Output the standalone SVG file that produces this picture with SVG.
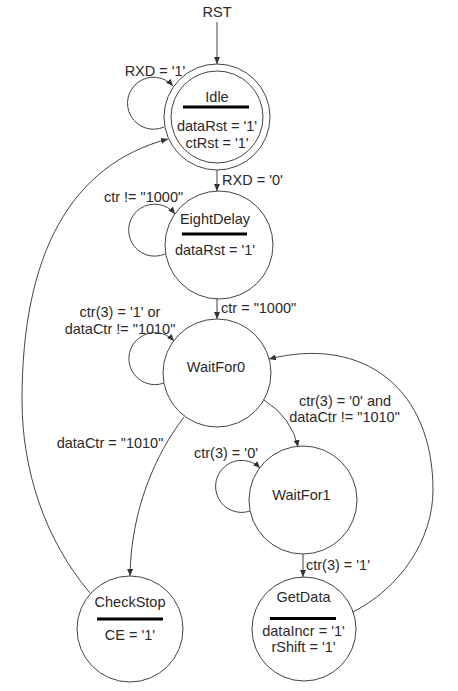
<svg xmlns="http://www.w3.org/2000/svg" width="458" height="691" viewBox="0 0 458 691">
<style>
  text { font-family: "Liberation Sans", Arial, sans-serif; font-size: 14.5px; fill: #2a2a2a; }
  .c { text-anchor: middle; }
  .node { fill: none; stroke: #444; stroke-width: 1; }
  .bar { stroke: #000; stroke-width: 3; }
  .edge { fill: none; stroke: #444; stroke-width: 1; marker-end: url(#arr); }
</style>
<defs>
  <marker id="arr" markerUnits="userSpaceOnUse" markerWidth="7" markerHeight="6" refX="7" refY="3" orient="auto">
    <path d="M0,0 L7,3 L0,6 z" fill="#333"/>
  </marker>
</defs>
<rect width="458" height="691" fill="#fff"/>

<g id="connectors">
  <text class="c" x="217" y="17">RST</text>
  <path class="edge" d="M217,22 L217,64"/>
  <path class="edge" d="M164,127 A26,26 0 1 1 173,86"/>
  <text class="c" x="155" y="76">RXD = '1'</text>
  <path class="edge" d="M217,170 L217,191"/>
  <text x="222" y="185">RXD = '0'</text>
  <path class="edge" d="M165,254 A26,26 0 1 1 175,214"/>
  <text class="c" x="143.5" y="202">ctr != "1000"</text>
  <path class="edge" d="M217,298 L217,319"/>
  <text x="221" y="313">ctr = "1000"</text>
  <path class="edge" d="M164,383 A26,26 0 1 1 174,341"/>
  <text class="c" x="120" y="317">ctr(3) = '1' or</text>
  <text class="c" x="120" y="334">dataCtr != "1010"</text>
  <path class="edge" d="M264,400 Q292,418 298,447"/>
  <text class="c" x="345" y="406">ctr(3) = '0' and</text>
  <text class="c" x="344.5" y="422">dataCtr != "1010"</text>
  <path class="edge" d="M250,511 A26,26 0 1 1 260,468"/>
  <text class="c" x="226" y="458">ctr(3) = '0'</text>
  <path class="edge" d="M303,554 L303,577"/>
  <text x="306" y="570">ctr(3) = '1'</text>
  <path class="edge" d="M353,612 C400,588 433,540 433,490 C433,390 365,335 269,359"/>
  <path class="edge" d="M184,417 C155,455 131,510 130,576"/>
  <text class="c" x="110" y="448">dataCtr = "1010"</text>
  <path class="edge" d="M90,593 C45,540 22,470 22,400 C22,255 70,165 168,139"/>
</g>

<g id="Idle">
  <circle class="node" cx="217" cy="117" r="53"/>
  <circle class="node" cx="217" cy="117" r="46"/>
  <text class="c" x="217" y="102">Idle</text>
  <line class="bar" x1="183" y1="107" x2="249" y2="107"/>
  <text class="c" x="217" y="131">dataRst = '1'</text>
  <text class="c" x="217" y="148">ctRst = '1'</text>
</g>

<g id="EightDelay">
  <circle class="node" cx="219" cy="245" r="54"/>
  <text class="c" x="215" y="224">EightDelay</text>
  <line class="bar" x1="182" y1="234" x2="247" y2="234"/>
  <text class="c" x="215" y="255">dataRst = '1'</text>
</g>

<g id="WaitFor0">
  <circle class="node" cx="217" cy="373" r="54"/>
  <text class="c" x="216" y="372">WaitFor0</text>
</g>

<g id="WaitFor1">
  <circle class="node" cx="303" cy="500" r="54"/>
  <text class="c" x="301.5" y="500">WaitFor1</text>
</g>

<g id="GetData">
  <circle class="node" cx="304" cy="629" r="52"/>
  <text class="c" x="303.5" y="602">GetData</text>
  <line class="bar" x1="270" y1="618.5" x2="336" y2="618.5"/>
  <text class="c" x="303.5" y="636">dataIncr = '1'</text>
  <text class="c" x="303.5" y="652">rShift = '1'</text>
</g>

<g id="CheckStop">
  <circle class="node" cx="130" cy="629" r="53"/>
  <text class="c" x="130" y="607">CheckStop</text>
  <line class="bar" x1="97" y1="619" x2="163" y2="619"/>
  <text class="c" x="130" y="640">CE = '1'</text>
</g>
</svg>
